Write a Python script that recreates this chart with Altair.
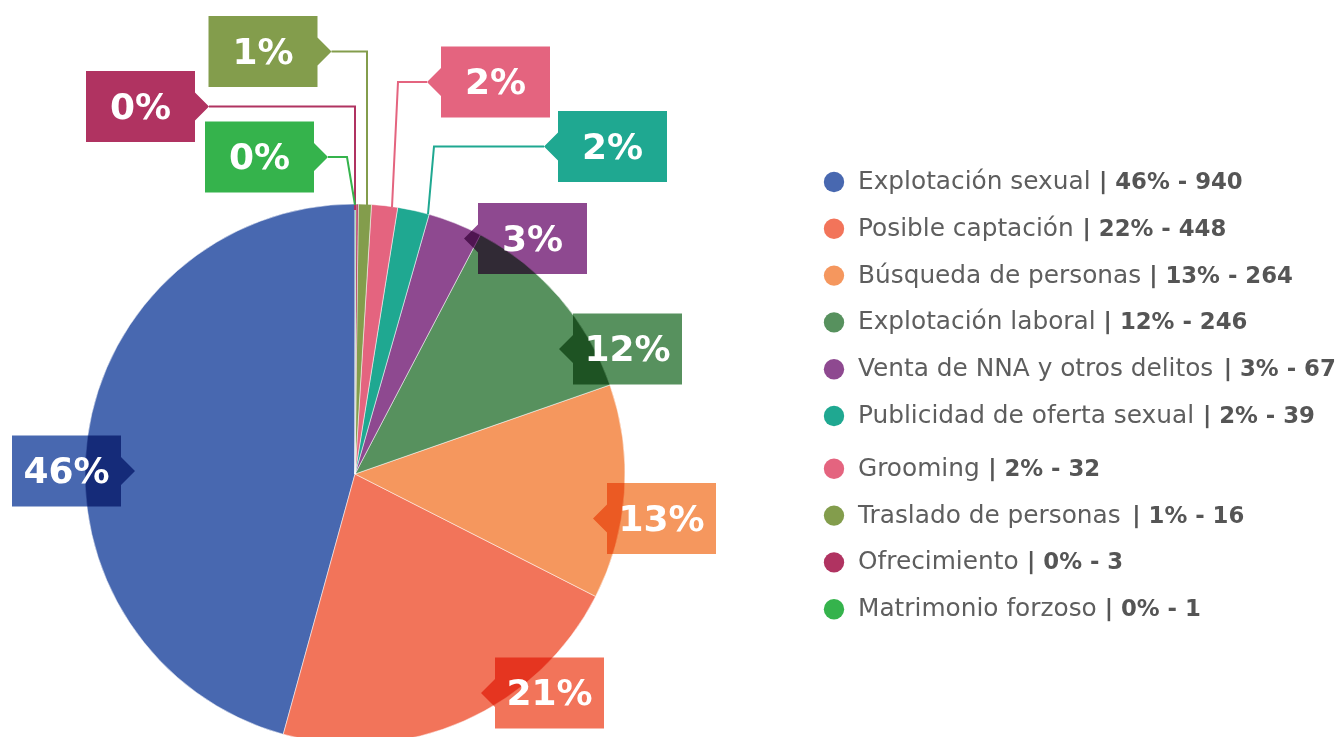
import altair as alt
import pandas as pd

# ---------------- data ----------------
categories = ["Explotación sexual", "Posible captación", "Búsqueda de personas",
              "Explotación laboral", "Venta de NNA y otros delitos",
              "Publicidad de oferta sexual", "Grooming", "Traslado de personas",
              "Ofrecimiento", "Matrimonio forzoso"]
counts = [940, 448, 264, 246, 67, 39, 32, 16, 3, 1]
legend_pct = ["46%", "22%", "13%", "12%", "3%", "2%", "2%", "1%", "0%", "0%"]
label_pct = ["46%", "21%", "13%", "12%", "3%", "2%", "2%", "1%", "0%", "0%"]
colors = ["#4868B0", "#F2745A", "#F5975E", "#57915E", "#8E4990",
          "#1FA891", "#E4647F", "#839D4C", "#B03361", "#35B34C"]

# ---------------- layout (pixels, chart coordinates) ----------------
W, H = 1328, 729
CX, CY, R = 347, 466, 270

box_layout = {
    "Explotación sexual": (58.5, 463, "R"),
    "Posible captación": (541.5, 685, "L"),
    "Búsqueda de personas": (653.5, 510.5, "L"),
    "Explotación laboral": (619.5, 341, "L"),
    "Venta de NNA y otros delitos": (524.5, 230.5, "L"),
    "Publicidad de oferta sexual": (604.5, 138.5, "L"),
    "Grooming": (487.5, 74, "L"),
    "Traslado de personas": (255, 43.5, "R"),
    "Ofrecimiento": (132.5, 98.5, "R"),
    "Matrimonio forzoso": (251.5, 149, "R"),
}
BOX_HW, PTR = 54.5, 14
leader_via = {
    "Matrimonio forzoso": [(339, None), (347, 197)],
    "Ofrecimiento": [(347, None), (347, 202)],
    "Traslado de personas": [(359, None), (359, 197)],
    "Grooming": [(390, None), (384, 199)],
    "Publicidad de oferta sexual": [(426, None), (420, 206)],
}

path_r = "M-1.09,-0.71L1.09,-0.71L1.09,-0.28L1.37,0L1.09,0.28L1.09,0.71L-1.09,0.71Z"
path_l = "M1.09,-0.71L-1.09,-0.71L-1.09,-0.28L-1.37,0L-1.09,0.28L-1.09,0.71L1.09,0.71Z"

# legend layout
LEG_CIRCLE_X, LEG_TEXT_X = 826, 850
LEG_TOP, LEG_STEP, LEG_EXTRA_AFTER, LEG_EXTRA = 174, 46.8, 5, 6
LEG_FS, LEG_BOLD_FS, LEG_GAP = 24.8, 22.8, 0

# DejaVu Sans advance widths (em)
dv = {" ": .318, "E": .632, "P": .603, "B": .686, "V": .684, "N": .748, "A": .684,
      "G": .775, "T": .611, "O": .787, "M": .863,
      "a": .613, "b": .635, "c": .550, "d": .635, "e": .615, "f": .352, "g": .635,
      "h": .634, "i": .278, "j": .278, "k": .579, "l": .278, "m": .974, "n": .634,
      "o": .612, "p": .635, "q": .635, "r": .411, "s": .521, "t": .392, "u": .634,
      "v": .592, "w": .818, "x": .592, "y": .592, "z": .525,
      "á": .613, "ó": .612, "ú": .634}


def text_w(s, fs):
    return sum(dv.get(ch, 0.6) for ch in s) * fs


# ---------------- tables ----------------
n = len(categories)
pie_df = pd.DataFrame({
    "cat": categories,
    "count": counts,
    "rank": [n - 1 - i for i in range(n)],
})

box_df = pd.DataFrame({
    "cat": categories,
    "label": label_pct,
    "x": [box_layout[c][0] for c in categories],
    "y": [box_layout[c][1] for c in categories],
    "side": [box_layout[c][2] for c in categories],
})

rows = []
for c in categories:
    if c not in leader_via:
        continue
    bx, by, side = box_layout[c]
    tipx = bx + (BOX_HW + PTR) * (1 if side == "R" else -1)
    pts = [(tipx, by)] + [(px, by if py is None else py) for px, py in leader_via[c]]
    for k, (px, py) in enumerate(pts):
        rows.append({"cat": c, "k": k, "x": px, "y": py})
lead_df = pd.DataFrame(rows)

leg_y = []
for i in range(n):
    y = LEG_TOP + i * LEG_STEP + (LEG_EXTRA if i > LEG_EXTRA_AFTER else 0)
    leg_y.append(y)
leg_df = pd.DataFrame({
    "cat": categories,
    "name": categories,
    "stats": ["| " + p + " - " + str(v) for p, v in zip(legend_pct, counts)],
    "y": leg_y,
    "xc": [LEG_CIRCLE_X] * n,
    "xt": [LEG_TEXT_X] * n,
    "xb": [LEG_TEXT_X + text_w(c + " ", LEG_FS) + LEG_GAP for c in categories],
})

# ---------------- encodings ----------------
xs = alt.Scale(domain=[0, W], nice=False, zero=False)
ys = alt.Scale(domain=[0, H], nice=False, zero=False, reverse=True)
color = alt.Color("cat:N", scale=alt.Scale(domain=categories, range=colors), legend=None)

pie = alt.Chart(pie_df).mark_arc(radius=R, stroke="white", strokeWidth=0.5).encode(
    theta=alt.Theta("count:Q", stack=True),
    order=alt.Order("rank:Q"),
    color=color,
    x=alt.value(CX),
    y=alt.value(CY),
)

leaders = alt.Chart(lead_df).mark_line(strokeWidth=2, strokeJoin="miter").encode(
    x=alt.X("x:Q", scale=xs, axis=None),
    y=alt.Y("y:Q", scale=ys, axis=None),
    color=color,
    detail="cat:N",
    order="k:Q",
)

boxes = alt.Chart(box_df).mark_point(filled=True, opacity=1, size=10000,
                                      strokeWidth=0, blend="multiply").encode(
    x=alt.X("x:Q", scale=xs, axis=None),
    y=alt.Y("y:Q", scale=ys, axis=None),
    color=color,
    shape=alt.Shape("side:N", scale=alt.Scale(domain=["R", "L"], range=[path_r, path_l]),
                    legend=None),
)

labels = alt.Chart(box_df).mark_text(font="DejaVu Sans", fontWeight="bold", fontSize=36,
                                     color="white", align="center", baseline="middle",
                                     dy=1).encode(
    x=alt.X("x:Q", scale=xs, axis=None),
    y=alt.Y("y:Q", scale=ys, axis=None),
    text="label:N",
)

leg_dots = alt.Chart(leg_df).mark_circle(size=415, opacity=1).encode(
    x=alt.X("xc:Q", scale=xs, axis=None),
    y=alt.Y("y:Q", scale=ys, axis=None),
    color=color,
)

leg_names = alt.Chart(leg_df).mark_text(font="DejaVu Sans", fontSize=LEG_FS, color="#5E5E5E",
                                        align="left", baseline="middle").encode(
    x=alt.X("xt:Q", scale=xs, axis=None),
    y=alt.Y("y:Q", scale=ys, axis=None),
    text="name:N",
)

leg_stats = alt.Chart(leg_df).mark_text(font="DejaVu Sans", fontWeight="bold",
                                        fontSize=LEG_BOLD_FS, color="#555555",
                                        align="left", baseline="middle").encode(
    x=alt.X("xb:Q", scale=xs, axis=None),
    y=alt.Y("y:Q", scale=ys, axis=None),
    text="stats:N",
)

chart = alt.layer(pie, leaders, boxes, labels, leg_dots, leg_names, leg_stats).properties(
    width=W, height=H, padding=0, autosize=alt.AutoSizeParams(type="none"),
    background="white",
).configure_view(stroke=None)

chart.save("out.html", embed_options={"renderer": "svg", "actions": False})
